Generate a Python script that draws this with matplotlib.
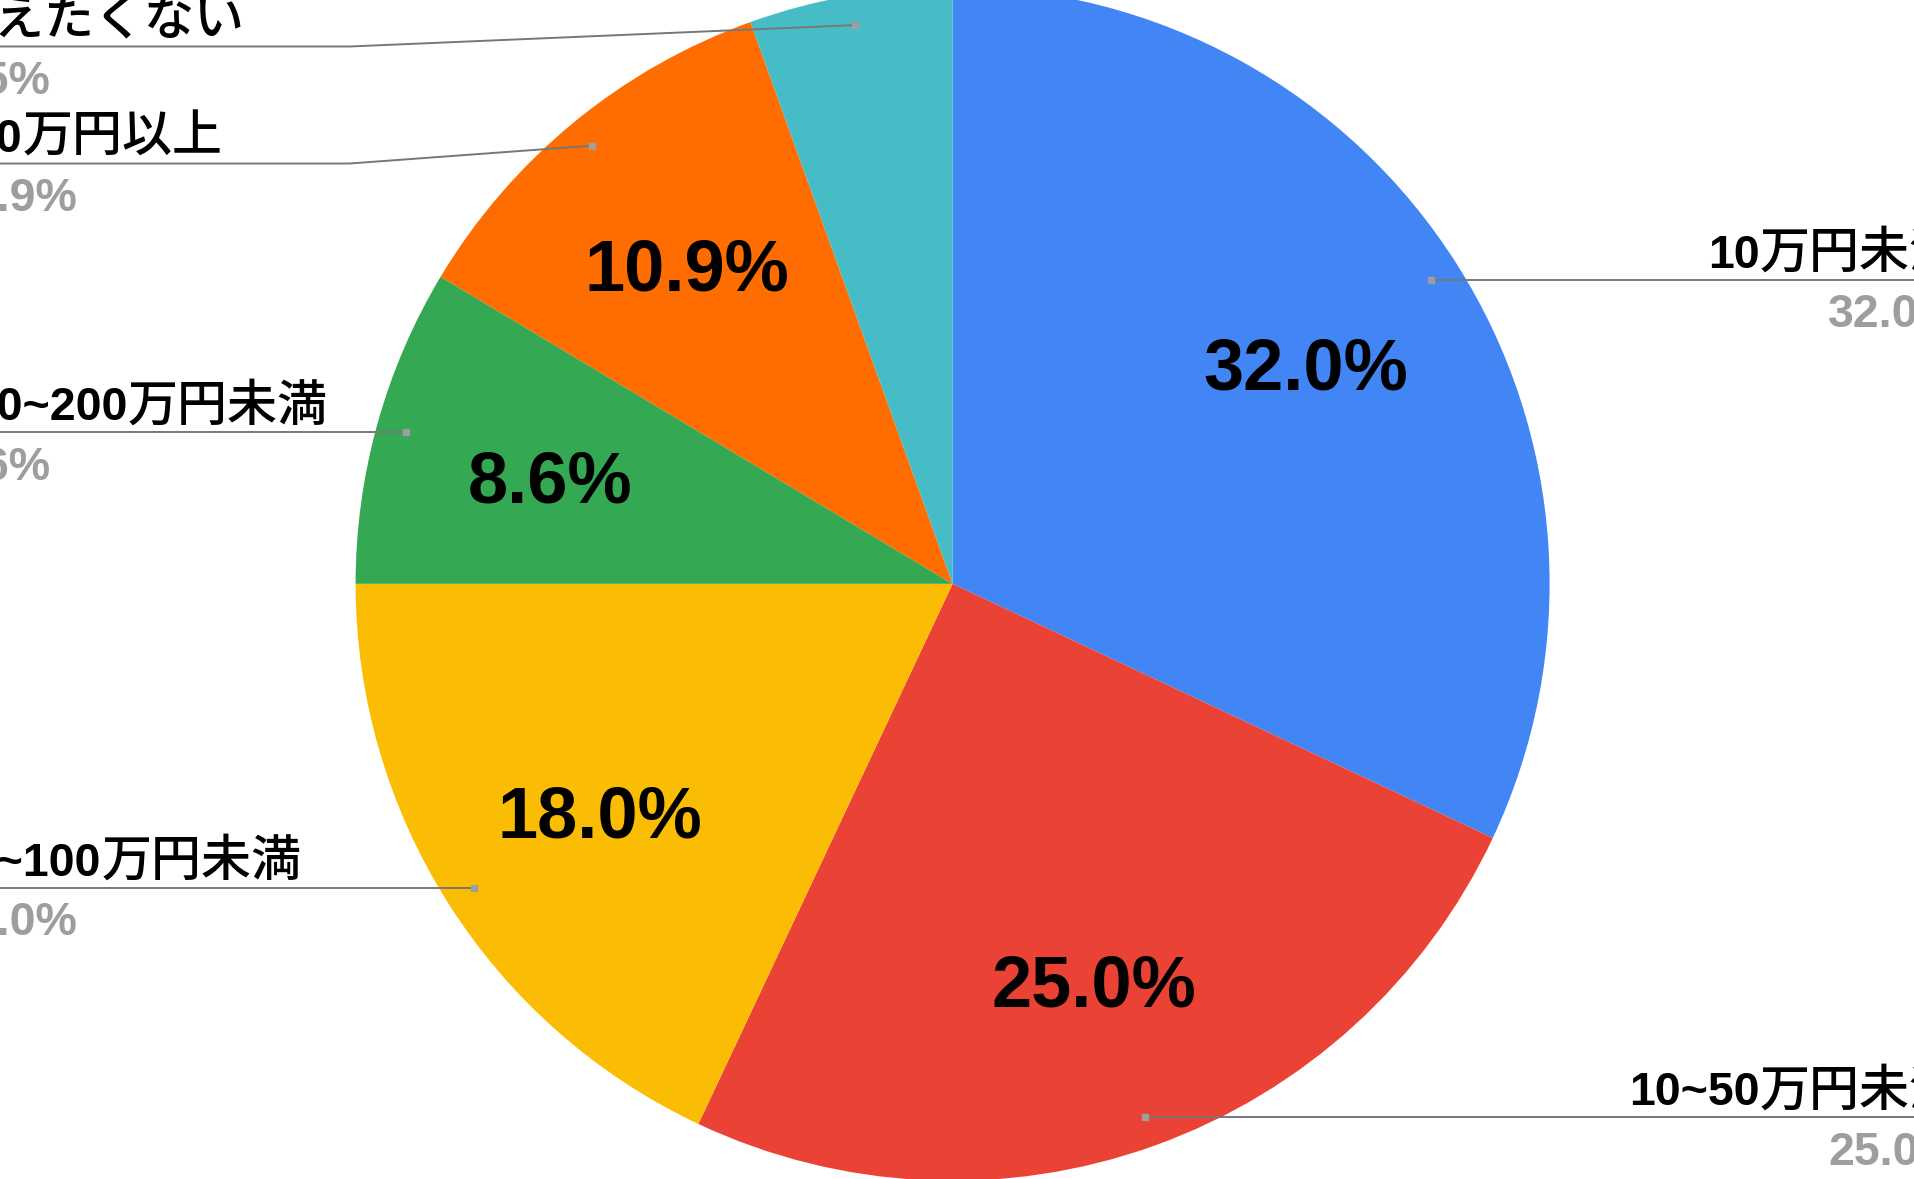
import re
import matplotlib
matplotlib.use('Agg')
import matplotlib.pyplot as plt
import numpy as np

categories = ['10万円未満', '10~50万円未満', '50~100万円未満', '100~200万円未満', '200万円以上', '答えたくない']
values = [32.0, 25.0, 18.0, 8.6, 10.9, 5.5]
colors = ['#4285F4', '#EA4335', '#FBBC04', '#34A853', '#FF6D01', '#46BDC6']

W, H = 1915, 1179
cx, cy, R = 952.6, 583.8, 597.0

fig = plt.figure(figsize=(W / 100, H / 100), dpi=100)
ax = fig.add_axes([0, 0, 1, 1])

wedges, _, autotexts = ax.pie(
    values, colors=colors, startangle=90, counterclock=False, radius=1,
    autopct=lambda p: f'{p:.1f}%' if p > 6 else '', pctdistance=0.70,
    textprops=dict(fontsize=52, fontweight='bold', family='Liberation Sans', color='black'),
    wedgeprops=dict(linewidth=0))

# nudge the inner labels a little lower, like the original
for t in autotexts:
    x, y = t.get_position()
    t.set_position((x, y - 0.018))

ax.set_xlim(-cx / R, (W - cx) / R)
ax.set_ylim(-(H - cy) / R, cy / R)
ax.axis('off')

LATIN = ['Liberation Sans', 'DejaVu Sans']
CJK = ['Noto Sans CJK JP', 'DejaVu Sans']
fs = 33.5
fs_cjk = 36
line_col = '#777777'
gray = '#9e9e9e'

# dots and label heights
items = []
for w, name, v in zip(wedges, categories, values):
    mid = np.deg2rad((w.theta1 + w.theta2) / 2)
    dx, dy = 0.95 * np.cos(mid), 0.95 * np.sin(mid)
    items.append(dict(name=name, v=v, dx=dx, dy=dy, left=dx < 0))

for side in (True, False):
    grp = sorted([it for it in items if it['left'] == side], key=lambda d: -d['dy'])
    prev = None
    for it in grp:
        ly = min(it['dy'], 0.90)
        if prev is not None:
            ly = min(ly, prev - 0.196)
        it['ly'] = ly
        prev = ly

fig.canvas.draw()
renderer = fig.canvas.get_renderer()
inv = ax.transData.inverted()

for it in items:
    ly = it['ly']
    m = re.match(r'([0-9~]*)(.*)', it['name'])
    num, rest = m.group(1), m.group(2)
    if it['left']:
        tx, px, ex = -1.688, -1.688, -1.01
        if num:
            t1 = ax.text(tx, ly + 0.020, num, ha='left', va='baseline', fontsize=fs,
                         fontweight='bold', family=LATIN)
            bb = t1.get_window_extent(renderer)
            tx = inv.transform((bb.x1, bb.y0))[0]
        ax.text(tx, ly + 0.020, rest, ha='left', va='baseline', fontsize=fs_cjk,
                fontweight='medium', family=CJK)
        ax.text(px, ly - 0.079, f'{it["v"]:.1f}%', ha='left', va='baseline', fontsize=fs,
                fontweight='bold', family=LATIN, color=gray)
        xs = [-1.8, min(ex, it['dx']), it['dx']]
    else:
        tx, px, ex = (1960 - cx) / R, (1960 - cx) / R, 1.01
        t2 = ax.text(tx, ly + 0.020, rest, ha='right', va='baseline', fontsize=fs_cjk,
                     fontweight='medium', family=CJK)
        bb = t2.get_window_extent(renderer)
        tx2 = inv.transform((bb.x0, bb.y0))[0]
        if num:
            ax.text(tx2, ly + 0.020, num, ha='right', va='baseline', fontsize=fs,
                    fontweight='bold', family=LATIN)
        ax.text(px, ly - 0.079, f'{it["v"]:.1f}%', ha='right', va='baseline', fontsize=fs,
                fontweight='bold', family=LATIN, color=gray)
        xs = [1.8, max(ex, it['dx']), it['dx']]
    ax.plot(xs, [ly, ly, it['dy']], color=line_col, lw=1.4, solid_capstyle='butt', zorder=3)
    ax.plot([it['dx']], [it['dy']], marker='s', ms=4, color=gray, zorder=4)

fig.savefig('out.png', dpi=100)
